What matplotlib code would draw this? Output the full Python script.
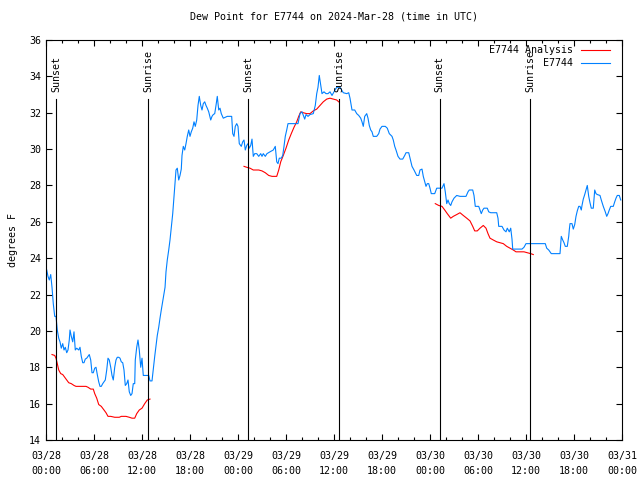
import numpy as np
import matplotlib
matplotlib.use("Agg")
import matplotlib.pyplot as plt
from matplotlib.ticker import MultipleLocator, FuncFormatter
from datetime import datetime, timedelta

# time axis: hours since 2024-03-28 00:00 UTC
start = datetime(2024, 3, 28)

# station observations (E7744)
obs_hours = [
    0.09, 0.25, 0.41, 0.59, 0.75, 0.91, 1.09, 1.25, 1.41, 1.59, 1.75, 1.91, 2.09, 2.25, 2.41,
    2.59, 2.75, 2.91, 3.0, 3.16, 3.34, 3.5, 3.66, 3.84, 4.09, 4.25, 4.41, 4.59, 4.75, 4.91,
    5.09, 5.25, 5.41, 5.59, 5.75, 5.91, 6.09, 6.25, 6.41, 6.59, 6.75, 6.91, 7.09, 7.25, 7.41,
    7.59, 7.75, 7.91, 8.09, 8.25, 8.41, 8.59, 8.75, 8.91, 9.09, 9.25, 9.41, 9.59, 9.75, 9.91,
    10.09, 10.25, 10.41, 10.59, 10.75, 10.91, 11.09, 11.16, 11.34, 11.5, 11.66, 11.84, 12.0,
    12.16, 12.66, 12.84, 13.0, 13.25, 13.41, 13.59, 13.75, 13.91, 14.09, 14.25, 14.41, 14.66,
    14.88, 15.0, 15.16, 15.34, 15.5, 15.66, 15.84, 16.0, 16.16, 16.25, 16.41, 16.59, 16.75,
    16.91, 17.0, 17.16, 17.34, 17.5, 17.66, 17.84, 18.0, 18.16, 18.34, 18.5, 18.66, 18.84,
    19.0, 19.16, 19.34, 19.5, 19.66, 19.84, 20.0, 20.16, 20.34, 20.59, 20.75, 20.91, 21.09,
    21.25, 21.41, 21.59, 21.75, 21.91, 22.16, 22.66, 23.21, 23.34, 23.5, 23.66, 23.84, 24.0,
    24.16, 24.41, 24.59, 24.75, 24.91, 25.09, 25.25, 25.41, 25.59, 25.75, 25.91, 26.09, 26.34,
    26.59, 26.84, 27.0, 27.16, 27.41, 27.62, 28.0, 28.41, 28.66, 28.84, 29.0, 29.16, 29.41,
    29.59, 29.75, 29.91, 30.09, 30.25, 31.5, 31.75, 32.0, 32.34, 32.5, 32.75, 33.0, 33.41,
    33.66, 33.84, 34.0, 34.16, 34.34, 34.5, 34.75, 35.0, 35.25, 35.5, 35.75, 36.0, 36.34,
    36.75, 37.16, 37.59, 37.84, 38.0, 38.25, 38.59, 38.84, 39.09, 39.34, 39.5, 39.66, 39.84,
    40.09, 40.25, 40.41, 40.59, 40.75, 40.91, 41.34, 41.59, 41.75, 42.0, 42.41, 42.66, 42.91,
    43.25, 43.41, 43.59, 43.75, 44.0, 44.25, 44.59, 44.84, 45.0, 45.34, 45.5, 45.75, 46.0,
    46.34, 46.59, 46.75, 47.0, 47.16, 47.34, 47.5, 47.66, 47.84, 48.0, 48.16, 48.59, 48.84,
    49.5, 49.75, 49.91, 50.09, 50.25, 50.41, 50.59, 50.75, 51.0, 51.34, 51.75, 52.5, 52.75,
    52.91, 53.34, 53.5, 53.66, 54.09, 54.25, 54.41, 54.59, 54.75, 55.16, 55.34, 55.59, 56.34,
    56.5, 56.59, 57.0, 57.25, 57.5, 57.66, 57.91, 58.09, 58.25, 58.34, 59.5, 59.75, 60.0,
    62.41, 62.59, 62.84, 63.16, 64.25, 64.34, 64.41, 64.59, 64.75, 64.91, 65.16, 65.34, 65.41,
    65.5, 65.75, 65.91, 66.09, 66.25, 66.41, 66.59, 66.75, 66.91, 67.0, 67.16, 67.34, 67.5,
    67.66, 67.84, 68.0, 68.16, 68.41, 68.59, 68.75, 68.91, 69.25, 69.41, 69.66, 69.91, 70.09,
    70.25, 70.41, 70.59, 70.91, 71.09, 71.25, 71.41, 71.66, 71.84,
]
obs_dewpt = [
    23.35, 23.0, 22.8, 23.1, 22.4, 21.5, 20.8, 20.8, 20.05, 19.6, 19.4, 19.05, 19.3, 18.95, 19.1,
    18.8, 18.95, 19.5, 20.05, 19.7, 19.4, 19.95, 18.95, 19.05, 18.95, 19.1, 18.6, 18.25, 18.25, 18.45,
    18.5, 18.6, 18.7, 18.4, 17.7, 17.7, 17.95, 18.0, 17.6, 17.2, 16.95, 16.95, 17.1, 17.2, 17.3,
    17.85, 18.5, 18.4, 18.0, 17.55, 17.3, 18.0, 18.4, 18.55, 18.55, 18.5, 18.3, 18.25, 17.85, 17.0,
    17.1, 17.3, 16.65, 16.45, 16.55, 17.1, 17.1, 18.4, 19.1, 19.5, 18.95, 18.0, 18.5,
    17.55, 17.55, 17.55, 17.25, 17.25, 17.9, 18.6, 19.2, 19.75, 20.2, 20.7, 21.15, 21.8,
    22.4, 23.25, 23.9, 24.45, 25.0, 25.7, 26.45, 27.4, 28.3, 28.85, 28.95, 28.3, 28.55,
    28.9, 29.65, 30.15, 29.95, 30.3, 30.7, 31.05, 30.7, 30.95, 31.15, 31.5, 31.25, 31.6,
    32.4, 32.9, 32.4, 32.15, 32.5, 32.6, 32.4, 32.25, 32.05, 31.6, 31.8, 31.9, 31.95,
    32.4, 32.9, 32.15, 32.25, 31.95, 31.7, 31.8, 31.8, 30.85, 30.7, 31.25, 31.4, 31.25,
    30.3, 30.15, 30.4, 30.5, 29.95, 30.2, 30.3, 30.05, 30.2, 30.55, 29.6, 29.75, 29.75,
    29.6, 29.75, 29.6, 29.75, 29.6, 29.75, 29.85, 29.95, 30.15, 29.3, 29.2, 29.5, 29.5,
    29.65, 30.15, 30.7, 31.05, 31.4, 31.4, 31.95, 32.05, 31.65, 31.9, 31.8, 31.9, 31.95,
    32.4, 33.05, 33.4, 34.05, 33.5, 33.05, 33.15, 33.05, 33.05, 33.15, 32.95, 33.15, 33.4,
    33.4, 33.1, 33.05, 33.1, 32.8, 32.15, 32.15, 31.95, 31.85, 31.7, 31.5, 31.25, 31.8,
    31.95, 31.7, 31.3, 31.05, 30.95, 30.7, 30.7, 30.85, 31.1, 31.25, 31.25, 31.15, 30.85,
    30.7, 30.5, 30.15, 29.95, 29.6, 29.45, 29.45, 29.65, 29.8, 29.8, 29.5, 29.05, 28.85,
    28.55, 28.55, 28.85, 28.9, 28.5, 28.2, 27.95, 28.1, 28.1, 27.85, 27.55, 27.55, 27.85,
    27.85, 28.1, 27.65, 27.0, 27.2, 27.0, 26.9, 27.1, 27.3, 27.45, 27.4, 27.4, 27.65,
    27.75, 27.75, 27.45, 26.85, 26.85, 26.65, 26.45, 26.65, 26.75, 26.75, 26.55, 26.5, 26.5,
    26.2, 25.75, 25.75, 25.55, 25.45, 25.65, 25.45, 25.65, 25.05, 24.5, 24.5, 24.6, 24.8,
    24.8, 24.55, 24.45, 24.25, 24.25, 24.75, 25.2, 25.0, 24.85, 24.65, 24.65, 25.2, 25.55,
    25.9, 25.9, 25.6, 25.85, 26.3, 26.6, 26.85, 26.85, 26.65, 26.9, 27.25, 27.5, 27.75,
    28.0, 27.4, 27.05, 26.75, 26.75, 27.75, 27.55, 27.5, 27.45, 27.2, 26.85, 26.55, 26.3,
    26.45, 26.65, 26.85, 26.85, 27.1, 27.3, 27.45, 27.45, 27.2,
]

# analysis (three nighttime segments, NaN = gap)
ana_hours = [
    0.75, 1.09, 1.25, 1.41, 1.59, 1.84, 2.09, 2.34, 2.59, 2.84, 3.16, 3.5, 3.75, 5.0, 5.25,
    5.59, 5.91, 6.09, 6.34, 6.59, 6.91, 7.25, 7.5, 7.75, 8.09, 8.59, 9.16, 9.41, 10.0, 10.41,
    10.75, 11.09, 11.34, 11.66, 12.0, 12.34, 12.66, 13.0,
    np.nan,
    24.75, 25.09, 25.5, 25.91, 26.59, 27.0, 27.41, 27.84, 28.25, 28.84, 29.09, 29.34, 29.66,
    30.0, 30.34, 30.66, 31.0, 31.34, 31.59, 31.84, 32.16, 32.59, 33.0, 33.41, 33.84, 34.25,
    34.66, 35.09, 35.5, 35.91, 36.34, 36.59,
    np.nan,
    48.66, 49.09, 49.5, 49.84, 50.16, 50.59, 50.91, 51.34, 51.75, 52.16, 52.59, 53.0, 53.34,
    53.59, 53.91, 54.25, 54.66, 55.0, 55.25, 55.5, 55.91, 56.34, 56.75, 57.16, 57.59, 58.0,
    58.41, 58.75, 59.75, 60.16, 60.59, 60.91,
]
ana_dewpt = [
    18.7, 18.65, 18.5, 18.2, 17.85, 17.65, 17.6, 17.45, 17.3, 17.15, 17.1, 17.0, 16.95, 16.95, 16.9,
    16.8, 16.8, 16.55, 16.3, 15.95, 15.85, 15.65, 15.5, 15.3, 15.3, 15.25, 15.25, 15.3, 15.3, 15.25,
    15.2, 15.2, 15.45, 15.65, 15.75, 16.0, 16.2, 16.25,
    np.nan,
    29.05, 29.0, 28.95, 28.85, 28.85, 28.8, 28.7, 28.55, 28.5, 28.5, 28.85, 29.3, 29.65,
    30.05, 30.5, 30.85, 31.2, 31.5, 31.8, 32.05, 32.0, 31.95, 31.95, 32.1, 32.2, 32.4,
    32.6, 32.75, 32.8, 32.75, 32.7, 32.6,
    np.nan,
    27.0, 26.9, 26.85, 26.65, 26.45, 26.2, 26.3, 26.4, 26.5, 26.35, 26.2, 26.05, 25.75,
    25.5, 25.5, 25.65, 25.8, 25.65, 25.35, 25.1, 25.0, 24.9, 24.85, 24.8, 24.65, 24.55,
    24.45, 24.35, 24.35, 24.3, 24.25, 24.2,
]

# sun events, hours since start
sunset_hours = [1.25, 25.28, 49.2]
sunrise_hours = [12.8, 36.68, 60.55]

plt.rcParams["font.family"] = ["DejaVu Sans Mono"]
plt.rcParams["font.size"] = 7.2

fig = plt.figure(figsize=(6.4, 4.8), dpi=100)
ax = fig.add_axes([46 / 640, 40 / 480, 576 / 640, 400 / 480])

ax.plot(ana_hours, ana_dewpt, color="#ff0000", lw=0.8, label="E7744 Analysis")
ax.plot(obs_hours, obs_dewpt, color="#0080ff", lw=0.8, label="E7744")

for h in sunset_hours:
    ax.axvline(h, ymin=0, ymax=0.8525, color="black", lw=0.8)
    ax.text(h, 0.87, "Sunset", rotation=90, ha="center", va="bottom",
            transform=ax.get_xaxis_transform())
for h in sunrise_hours:
    ax.axvline(h, ymin=0, ymax=0.8525, color="black", lw=0.8)
    ax.text(h, 0.87, "Sunrise", rotation=90, ha="center", va="bottom",
            transform=ax.get_xaxis_transform())

ax.set_xlim(0, 72)
ax.set_ylim(14, 36)
ax.xaxis.set_major_locator(MultipleLocator(6))
ax.xaxis.set_minor_locator(MultipleLocator(2))
ax.yaxis.set_major_locator(MultipleLocator(2))


def fmt_time(x, pos):
    t = start + timedelta(hours=x)
    return t.strftime("%m/%d\n%H:%M")


ax.xaxis.set_major_formatter(FuncFormatter(fmt_time))
ax.tick_params(which="both", direction="in", top=True, right=True, width=0.8)
ax.tick_params(which="major", length=4)
ax.tick_params(axis="x", which="major", pad=8)
ax.tick_params(which="minor", length=2.5)
for lbl in ax.get_xticklabels():
    lbl.set_linespacing(1.6)
for s in ax.spines.values():
    s.set_linewidth(0.8)

ax.set_title("Dew Point for E7744 on 2024-Mar-28 (time in UTC)", fontsize=7.2, pad=15)
ax.set_ylabel("degrees F", labelpad=8)

ax.legend(loc="upper right", bbox_to_anchor=(1 - 5 / 576, 1 + 2 / 400), frameon=False,
          markerfirst=False, handlelength=2.9, handletextpad=0.8, labelspacing=0.35,
          borderaxespad=0.3)

fig.savefig("out.png", dpi=100)
